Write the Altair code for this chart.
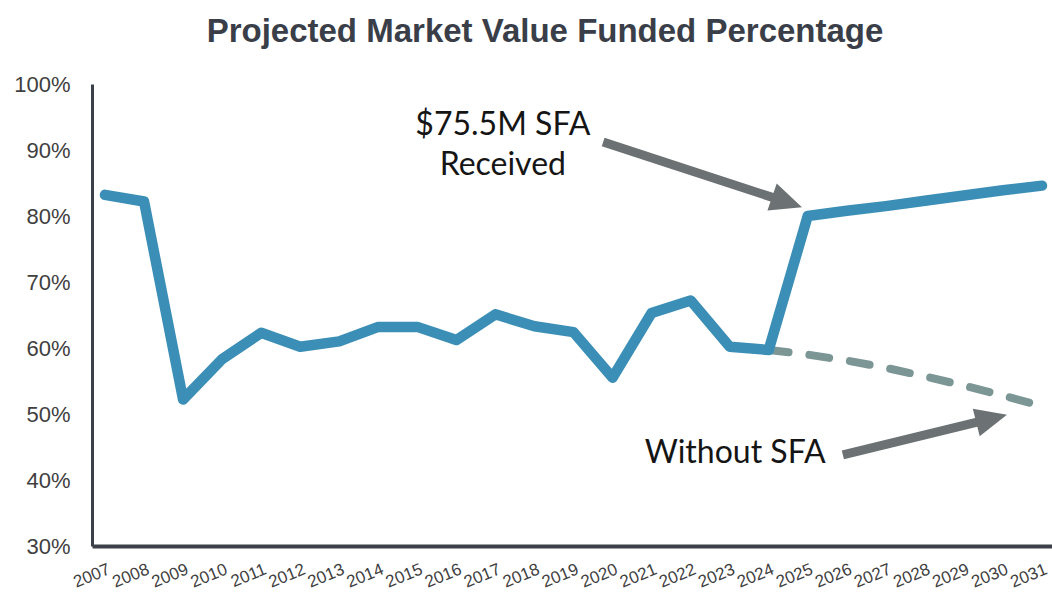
import altair as alt
import pandas as pd

years = list(range(2007, 2032))
with_sfa = [83.2, 82.2, 52.2, 58.3, 62.3, 60.2, 61.0, 63.2, 63.2, 61.2, 65.1, 63.3, 62.4,
            55.5, 65.3, 67.2, 60.2, 59.7, 80.0, 80.8, 81.5, 82.3, 83.1, 83.9, 84.6]
no_sfa_years = list(range(2024, 2032))
no_sfa = [59.7, 59.0, 58.1, 57.0, 55.7, 54.3, 52.8, 51.2]

# annotations (data coordinates)
label_text = ["$75.5M SFA", "Received", "Without SFA"]
label_x = [2017.19, 2017.19, 2023.14]
label_y = [93.8, 87.7, 44.1]
arrow_x = [2019.76, 2025.90]
arrow_y = [91.2, 43.8]
arrow_x2 = [2024.47, 2029.71]
arrow_y2 = [82.1, 49.3]
arrow_angle = [109, 76]

main = pd.DataFrame({"year": years, "value": with_sfa})
alt_df = pd.DataFrame({"year": no_sfa_years, "value": no_sfa})
labels = pd.DataFrame({"x": label_x, "y": label_y, "t": label_text})
arrows = pd.DataFrame({"x": arrow_x, "y": arrow_y, "x2": arrow_x2, "y2": arrow_y2, "a": arrow_angle})

xscale = alt.Scale(domain=[2006.667, 2031.257], nice=False, zero=False)
yscale = alt.Scale(domain=[30, 100], nice=False, zero=False)

xaxis = alt.Axis(values=years, tickCount=40, format="d", labelAngle=-22, labelAlign="right",
                 labelBaseline="top", labelPadding=15, labelOffset=1, labelFontSize=17,
                 labelFont="Liberation Sans", labelColor="#404040", ticks=False, grid=False,
                 domainColor="#3C4048", domainWidth=4, title=None, labelOverlap=False,
                 labelBound=False, labelFlush=False)
yaxis = alt.Axis(values=[30, 40, 50, 60, 70, 80, 90, 100], tickCount=10,
                 labelExpr="datum.value + '%'",
                 labelFontSize=22, labelFont="Liberation Sans", labelColor="#404040",
                 labelPadding=22, ticks=False, grid=False, domainColor="#3C4048",
                 domainWidth=3, title=None, labelOverlap=False)

dashed = alt.Chart(alt_df).mark_line(color="#7C9696", strokeWidth=8, strokeDash=[20, 21],
                                     strokeCap="round").encode(
    x=alt.X("year:Q", scale=xscale, axis=xaxis),
    y=alt.Y("value:Q", scale=yscale, axis=yaxis),
)
line = alt.Chart(main).mark_line(color="#3B8EB6", strokeWidth=10.5, strokeCap="round",
                                 strokeJoin="round").encode(
    x=alt.X("year:Q", scale=xscale, axis=xaxis),
    y=alt.Y("value:Q", scale=yscale, axis=yaxis),
)
shafts = alt.Chart(arrows).mark_rule(color="#6C7173", strokeWidth=9).encode(
    x=alt.X("x:Q", scale=xscale, axis=xaxis), y=alt.Y("y:Q", scale=yscale, axis=yaxis),
    x2="x2:Q", y2="y2:Q",
)
heads = alt.Chart(arrows).mark_point(shape="M0,-1L-0.9,1L0.9,1Z", size=1000, filled=True,
                                     color="#6C7173", opacity=1).encode(
    x=alt.X("x2:Q", scale=xscale, axis=xaxis), y=alt.Y("y2:Q", scale=yscale, axis=yaxis),
    angle=alt.Angle("a:Q", scale=None),
)
texts = alt.Chart(labels).mark_text(font="Lato", fontSize=32, color="#151515",
                                    align="center", baseline="middle").encode(
    x=alt.X("x:Q", scale=xscale, axis=xaxis), y=alt.Y("y:Q", scale=yscale, axis=yaxis),
    text="t:N",
)

chart = alt.layer(dashed, line, shafts, heads, texts).properties(
    width=960, height=462,
    title=alt.TitleParams("Projected Market Value Funded Percentage", fontSize=33,
                          font="Liberation Sans", fontWeight="bold", color="#3A3E48",
                          anchor="middle", dx=-27, offset=-2, baseline="alphabetic"),
    autosize=alt.AutoSizeParams(type="none"),
    padding={"left": 92, "top": 84, "right": 0, "bottom": 47},
).configure(background="white").configure_view(strokeWidth=0, stroke="transparent").configure_axis(labelOverlap=False)

chart.save("out.html", embed_options={"renderer": "svg", "actions": False})
